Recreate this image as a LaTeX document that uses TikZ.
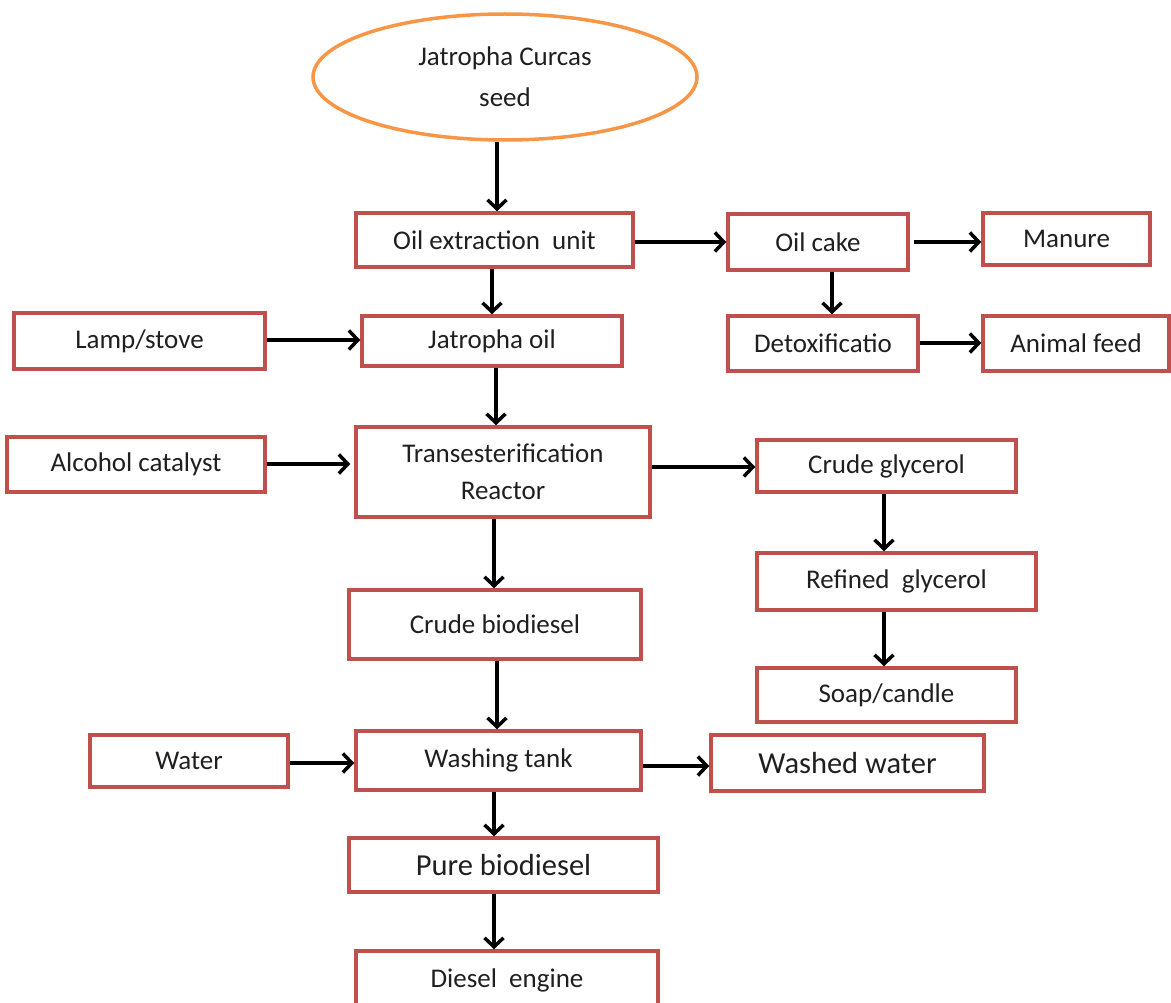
\documentclass[tikz,border=0pt]{standalone}
\usepackage{fontspec}
\setmainfont{Carlito}
\usetikzlibrary{arrows.meta,shapes.geometric}
\definecolor{boxred}{HTML}{C0504D}
\definecolor{ellorange}{HTML}{F79646}
\tikzset{
  box/.style={draw=boxred, line width=3.5pt, rectangle, inner sep=0pt, align=center,
    font=\fontsize{27}{37}\selectfont, text=black!88},
  bigtxt/.style={font=\fontsize{30.5}{36}\selectfont},
  arr/.style={line width=3.5pt, -{Straight Barb[length=9pt,width=19pt,line width=3.5pt]}},
}
\newcommand{\bx}[7]{% name, x1, y1, x2, y2, text, extra
  \node[box, #7, minimum width={#4-#2}, minimum height={#5-#3}] (#1) at ({(#2+#4)/2},{(#3+#5)/2}) {#6};}
\begin{document}
\begin{tikzpicture}[x=1pt,y=-1pt]
\useasboundingbox (0,0) rectangle (1171,1003);
\clip (0,0) rectangle (1171,1003);
\node[ellipse, draw=ellorange, line width=3.5pt, minimum width=384pt, minimum height=126pt,
  inner sep=0pt, align=center, font=\fontsize{27}{41}\selectfont, text=black!88] (seed) at (505,77) {Jatropha Curcas\\seed};
\bx{oeu}{356}{213}{633}{267}{Oil extraction\ \ unit}{}
\bx{cake}{728}{214}{908}{270}{Oil cake}{}
\bx{man}{983}{213}{1150}{265}{Manure}{}
\bx{lamp}{14}{313}{265}{369}{Lamp/stove}{}
\bx{joil}{362}{316}{622}{366}{Jatropha oil}{}
\bx{detox}{728}{316}{918}{371}{Detoxificatio}{}
\bx{feed}{983}{316}{1169}{371}{Animal feed}{}
\bx{alc}{7}{437}{265}{492}{Alcohol catalyst}{}
\bx{trans}{356}{427}{650}{517}{Transesterification\\Reactor}{}
\bx{cgly}{757}{440}{1016}{492}{Crude glycerol}{}
\bx{rgly}{757}{553}{1036}{610}{Refined\ \ glycerol}{}
\bx{soap}{757}{668}{1016}{722}{Soap/candle}{}
\bx{cbio}{349}{590}{641}{659}{Crude biodiesel}{}
\bx{water}{90}{735}{288}{787}{Water}{}
\bx{wash}{356}{731}{641}{790}{Washing tank}{}
\bx{wwater}{711}{735}{984}{791}{Washed water}{bigtxt}
\bx{pure}{349}{838}{658}{892}{Pure biodiesel}{bigtxt}
\bx{diesel}{356}{951}{658}{1010}{Diesel\ \ engine}{}
% connectors
\draw[arr] (seed.south -| 497,0) -- (oeu.north -| 497,0);
\draw[arr] (oeu.east |- 0,242) -- (cake.west |- 0,242);
\draw[arr] ([xshift=4pt]cake.east |- 0,242) -- (man.west |- 0,242);
\draw[arr] (oeu.south -| 492,0) -- (joil.north -| 492,0);
\draw[arr] (cake.south -| 832,0) -- (detox.north -| 832,0);
\draw[arr] (lamp.east |- 0,340) -- (joil.west |- 0,340);
\draw[arr] (detox.east |- 0,343) -- (feed.west |- 0,343);
\draw[arr] (joil.south -| 496,0) -- (trans.north -| 496,0);
\draw[arr] (alc.east |- 0,464) -- ([xshift=-4pt]trans.west |- 0,464);
\draw[arr] (trans.east |- 0,467) -- (cgly.west |- 0,467);
\draw[arr] (trans.south -| 494,0) -- (cbio.north -| 494,0);
\draw[arr] (cgly.south -| 884,0) -- (rgly.north -| 884,0);
\draw[arr] (rgly.south -| 884,0) -- (soap.north -| 884,0);
\draw[arr] (cbio.south -| 497,0) -- (wash.north -| 497,0);
\draw[arr] (water.east |- 0,763) -- (wash.west |- 0,763);
\draw[arr] (wash.east |- 0,766) -- (wwater.west |- 0,766);
\draw[arr] (wash.south -| 494,0) -- (pure.north -| 494,0);
\draw[arr] (pure.south -| 494,0) -- (diesel.north -| 494,0);
\end{tikzpicture}
\end{document}
